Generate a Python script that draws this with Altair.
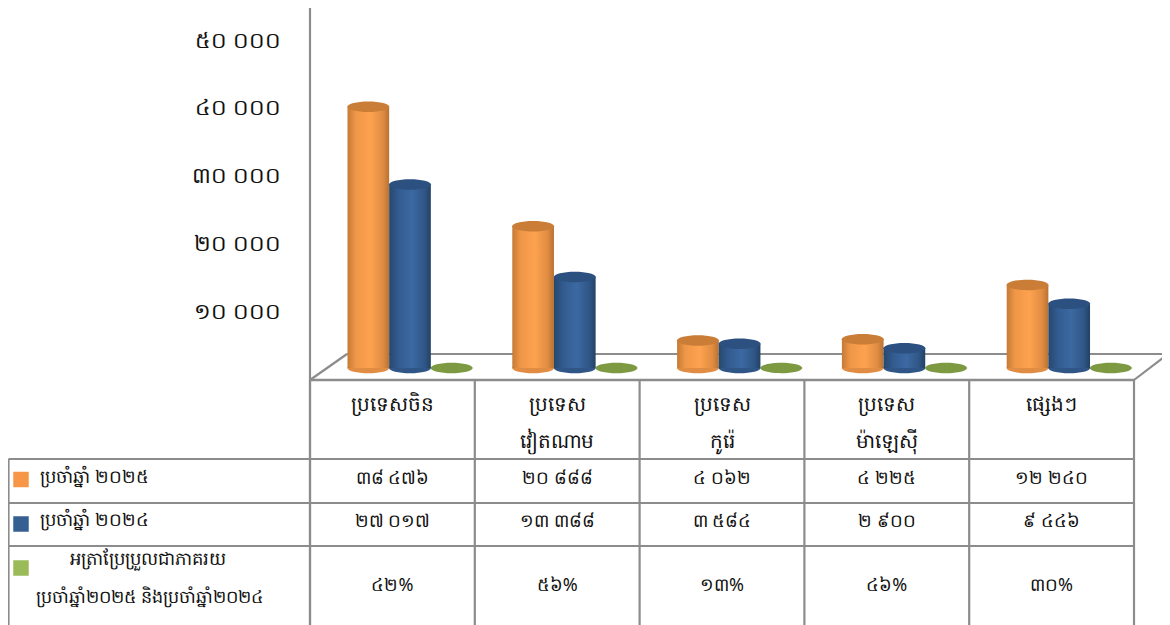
import altair as alt
import pandas as pd

categories = ["ប្រទេសចិន", "ប្រទេស\nវៀតណាម", "ប្រទេស\nកូរ៉េ", "ប្រទេស\nម៉ាឡេស៊ី", "ផ្សេងៗ"]
keys = ["cn", "vn", "kr", "my", "ot"]
y2025 = [38476, 20888, 4062, 4225, 12240]
y2024 = [27017, 13388, 3584, 2900, 9446]
change = [42, 56, 13, 46, 30]
ticks = [10000, 20000, 30000, 40000, 50000]
row_labels = ["ប្រចាំឆ្នាំ ២០២៥", "ប្រចាំឆ្នាំ ២០២៤"]
row3_label = "អត្រាប្រែប្រួលជាភាគរយ"
row3_label2 = "ប្រចាំឆ្នាំ២០២៥ និងប្រចាំឆ្នាំ២០២៤"
series = ["a", "b", "c"]

FONT = "Noto Sans"
GRID = "#8c8c8c"
W, H = 1154, 617
KD = str.maketrans("0123456789", "០១២៣៤៥៦៧៨៩")


def kh(n):
    return f"{n:,}".replace(",", " ").translate(KD)


orange_g = alt.LinearGradient(gradient="linear", x1=0, x2=1, y1=0, y2=0, stops=[
    alt.GradientStop(offset=0, color="#c57a35"), alt.GradientStop(offset=0.2, color="#ef9748"),
    alt.GradientStop(offset=0.55, color="#fda24f"), alt.GradientStop(offset=0.85, color="#e08c42"),
    alt.GradientStop(offset=1, color="#b87232")])
blue_g = alt.LinearGradient(gradient="linear", x1=0, x2=1, y1=0, y2=0, stops=[
    alt.GradientStop(offset=0, color="#27486f"), alt.GradientStop(offset=0.25, color="#335d92"),
    alt.GradientStop(offset=0.55, color="#3c69a2"), alt.GradientStop(offset=0.85, color="#2f5686"),
    alt.GradientStop(offset=1, color="#234264")])

df = pd.DataFrame({
    "key": keys * 3,
    "series": ["a"] * 5 + ["b"] * 5 + ["c"] * 5,
    "value": y2025 + y2024 + [c / 100 for c in change],
})
cats = pd.DataFrame({
    "key": keys, "cat": categories,
    "v25": [kh(v) for v in y2025], "v24": [kh(v) for v in y2024],
    "pct": [f"{c}%".translate(KD) for c in change],
})
tick_df = pd.DataFrame({"value": ticks, "label": [kh(t) for t in ticks]})

Y0 = 360
K = 0.00679
yscale = alt.Scale(domain=[-(H - Y0) / K, Y0 / K], range=[H, 0], nice=False, zero=False)
xscale = alt.Scale(domain=keys, range=[302, 1126], paddingInner=0, paddingOuter=0)
offs = alt.Scale(domain=series, range=[37.5, 162.5], paddingInner=0, paddingOuter=0)
X = alt.X("key:N", scale=xscale, axis=None)
XO = alt.XOffset("series:N", scale=offs)


def Yq(field="value:Q"):
    return alt.Y(field, scale=yscale, axis=None)


def seg(x, x2, y, y2, w=2.2, color=GRID):
    return alt.Chart(pd.DataFrame({"a": [0]})).mark_rule(color=color, strokeWidth=w).encode(
        x=alt.value(x), x2=alt.value(x2), y=alt.value(y), y2=alt.value(y2))


tick_layer = alt.Chart(tick_df).mark_text(
    font=FONT, fontSize=22, color="#111111", align="right", baseline="middle", dy=12
).encode(x=alt.value(273), y=Yq(), text="label:N")

frame = [
    seg(302, 302, 0, 372),
    seg(302, 339, 372, 346),
    seg(339, 1160, 346, 346),
    seg(1126, 1160, 372, 346),
    seg(302, 1126, 372, 372, 2.6),
    seg(1126, 1126, 372, H),
    seg(302, 302, 372, H),
    seg(0.5, 1126, 451, 451),
    seg(0.5, 1126, 495, 495),
    seg(0.5, 1126, 538, 538),
    seg(0.5, 0.5, 451, H),
]
cols = alt.Chart(cats).mark_rule(color=GRID, strokeWidth=2.2).encode(
    x=alt.X("key:N", scale=xscale, axis=None, bandPosition=0),
    y=alt.value(372), y2=alt.value(H))

D = alt.Chart(df)
ELL = "M -1 0 A 1 0.25 0 1 1 1 0 A 1 0.25 0 1 1 -1 0 Z"


def ellipse(s, color):
    return D.transform_filter(f"datum.series=='{s}'").mark_point(
        shape=ELL, filled=True, fill=color, size=1764, opacity=1, strokeWidth=0).encode(
        x=X, xOffset=XO, y=Yq("value:Q"))


def zero_ellipse(s, color):
    return D.transform_filter(f"datum.series=='{s}'").transform_calculate(z="0").mark_point(
        shape=ELL, filled=True, fill=color, size=1764, opacity=1, strokeWidth=0).encode(
        x=X, xOffset=XO, y=Yq("z:Q"))


def body(s, grad):
    return D.transform_filter(f"datum.series=='{s}'").transform_calculate(z="0").mark_bar(fill=grad).encode(
        x=X, xOffset=XO, y=Yq("value:Q"), y2="z:Q")


cyl = [
    zero_ellipse("a", "#e08c42"), body("a", orange_g), ellipse("a", "#c97d37"),
    zero_ellipse("b", "#2f5686"), body("b", blue_g), ellipse("b", "#2c5080"),
    ellipse("c", "#7d9a42"),
]

tx = alt.Chart(cats)


def cell_text(field, y):
    return tx.mark_text(font=FONT, fontSize=18, color="#111111", align="center", baseline="middle").encode(
        x=alt.X("key:N", scale=xscale, axis=None), y=alt.value(y), text=f"{field}:N")


header = tx.mark_text(font=FONT, fontSize=20, color="#111111", align="center", baseline="middle",
                      lineBreak="\n", lineHeight=37).encode(
    x=alt.X("key:N", scale=xscale, axis=None), y=alt.value(397), text="cat:N")


def label(text, x, y, align="left", size=18):
    return alt.Chart(pd.DataFrame({"t": [text]})).mark_text(
        font=FONT, fontSize=size, color="#111111", align=align, baseline="middle").encode(
        x=alt.value(x), y=alt.value(y), text="t:N")


def key(y, color):
    return alt.Chart(pd.DataFrame({"a": [0]})).mark_square(size=240, color=color, opacity=1).encode(
        x=alt.value(13), y=alt.value(y))


text_layers = [
    header, cell_text("v25", 471), cell_text("v24", 514), cell_text("pct", 578),
    label(row_labels[0], 32, 470), label(row_labels[1], 32, 513),
    label(row3_label, 140, 552, "center"), label(row3_label2, 28, 590, size=17.6),
    key(471.5, "#f79646"), key(516, "#376092"), key(560, "#9bbb59"),
]

chart = alt.layer(*frame, cols, *cyl, *text_layers, tick_layer).resolve_scale(
    x="shared", y="shared"
).properties(
    width=W, height=H, padding=0, background="white",
    autosize=alt.AutoSizeParams(type="none"),
).configure_view(stroke=None)

chart.save("out.html", embed_options={"renderer": "svg", "actions": False})
